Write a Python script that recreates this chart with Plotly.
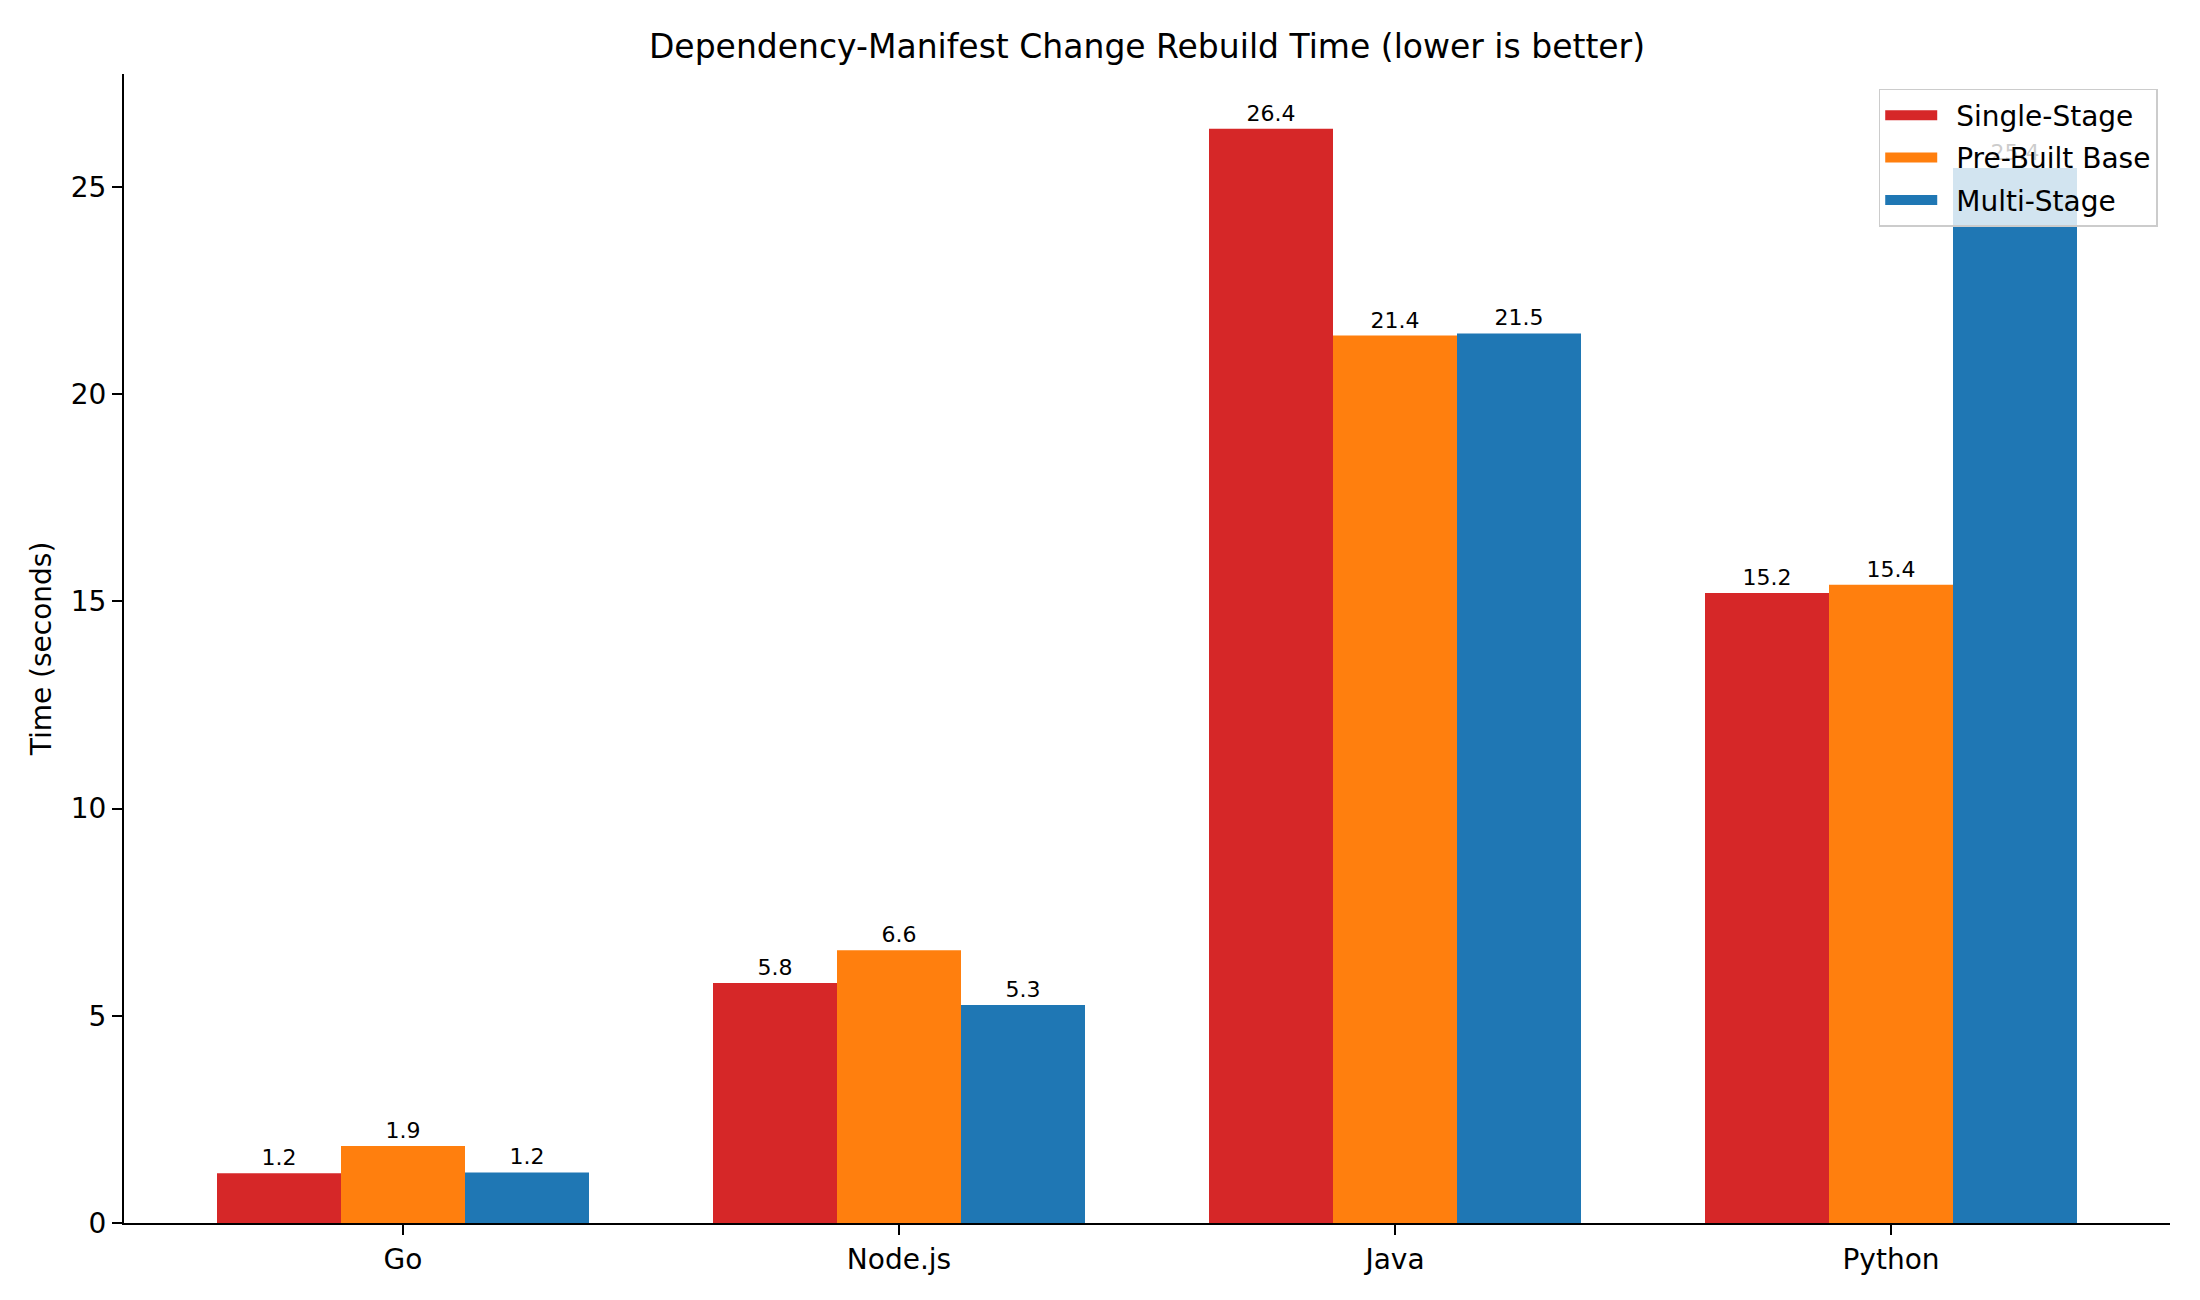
import plotly.graph_objects as go

categories = ["Go", "Node.js", "Java", "Python"]
single_stage = [1.2, 5.79, 26.4, 15.2]
prebuilt_base = [1.86, 6.58, 21.41, 15.4]
multi_stage = [1.22, 5.26, 21.46, 25.45]
series_names = ["Single-Stage", "Pre-Built Base", "Multi-Stage"]
series_colors = ["#d62728", "#ff7f0e", "#1f77b4"]
y_ticks = [0, 5, 10, 15, 20, 25]

FONT = "DejaVu Sans"

fig = go.Figure()
for name, vals, col in zip(series_names, [single_stage, prebuilt_base, multi_stage], series_colors):
    fig.add_trace(go.Bar(
        x=categories, y=vals, name=name, legendgroup=name, showlegend=False,
        marker=dict(color=col, line=dict(width=0)),
        texttemplate="%{y:.1f}", textposition="outside",
        textfont=dict(family=FONT, size=22, color="black"),
        cliponaxis=False,
    ))
# legend-only proxies so the legend keys are wide rectangles (as in the reference)
for name, col in zip(series_names, series_colors):
    fig.add_trace(go.Scatter(
        x=[None], y=[None], mode="lines", name="\u2002" + name, legendgroup=name,
        line=dict(color=col, width=20), hoverinfo="skip", showlegend=True,
    ))

ymax = max(single_stage + prebuilt_base + multi_stage) * 1.05

fig.update_layout(
    width=2200, height=1300,
    paper_bgcolor="white", plot_bgcolor="white",
    margin=dict(l=124, r=30, t=74, b=77),
    barmode="group", bargap=0.25, bargroupgap=0,
    font=dict(family=FONT, size=28, color="black"),
    title=dict(text="Dependency-Manifest Change Rebuild Time (lower is better)",
               x=(124 + 2170) / 2 / 2200, xanchor="center",
               y=1 - 46 / 1300, yanchor="middle", yref="container",
               font=dict(family=FONT, size=33, color="black")),
    legend=dict(x=0.994, y=0.987, xanchor="right", yanchor="top",
                bgcolor="rgba(255,255,255,0.8)", bordercolor="#cccccc", borderwidth=1.5,
                itemwidth=52, tracegroupgap=3,
                font=dict(family=FONT, size=28, color="black")),
    showlegend=True,
)
fig.update_xaxes(
    range=[-0.5625, 3.5625], showgrid=False, zeroline=False,
    showline=True, linecolor="black", linewidth=2.2,
    ticks="outside", ticklen=10, tickwidth=2.2, tickcolor="black",
    tickfont=dict(family=FONT, size=28, color="black"),
)
fig.update_yaxes(
    range=[0, ymax], tickvals=y_ticks, showgrid=False, zeroline=False,
    showline=True, linecolor="black", linewidth=2.2,
    ticks="outside", ticklen=10, tickwidth=2.2, tickcolor="black",
    tickfont=dict(family=FONT, size=28, color="black"),
    title=dict(text="Time (seconds)", standoff=11, font=dict(family=FONT, size=28, color="black")),
)

fig.write_html("out.html")
